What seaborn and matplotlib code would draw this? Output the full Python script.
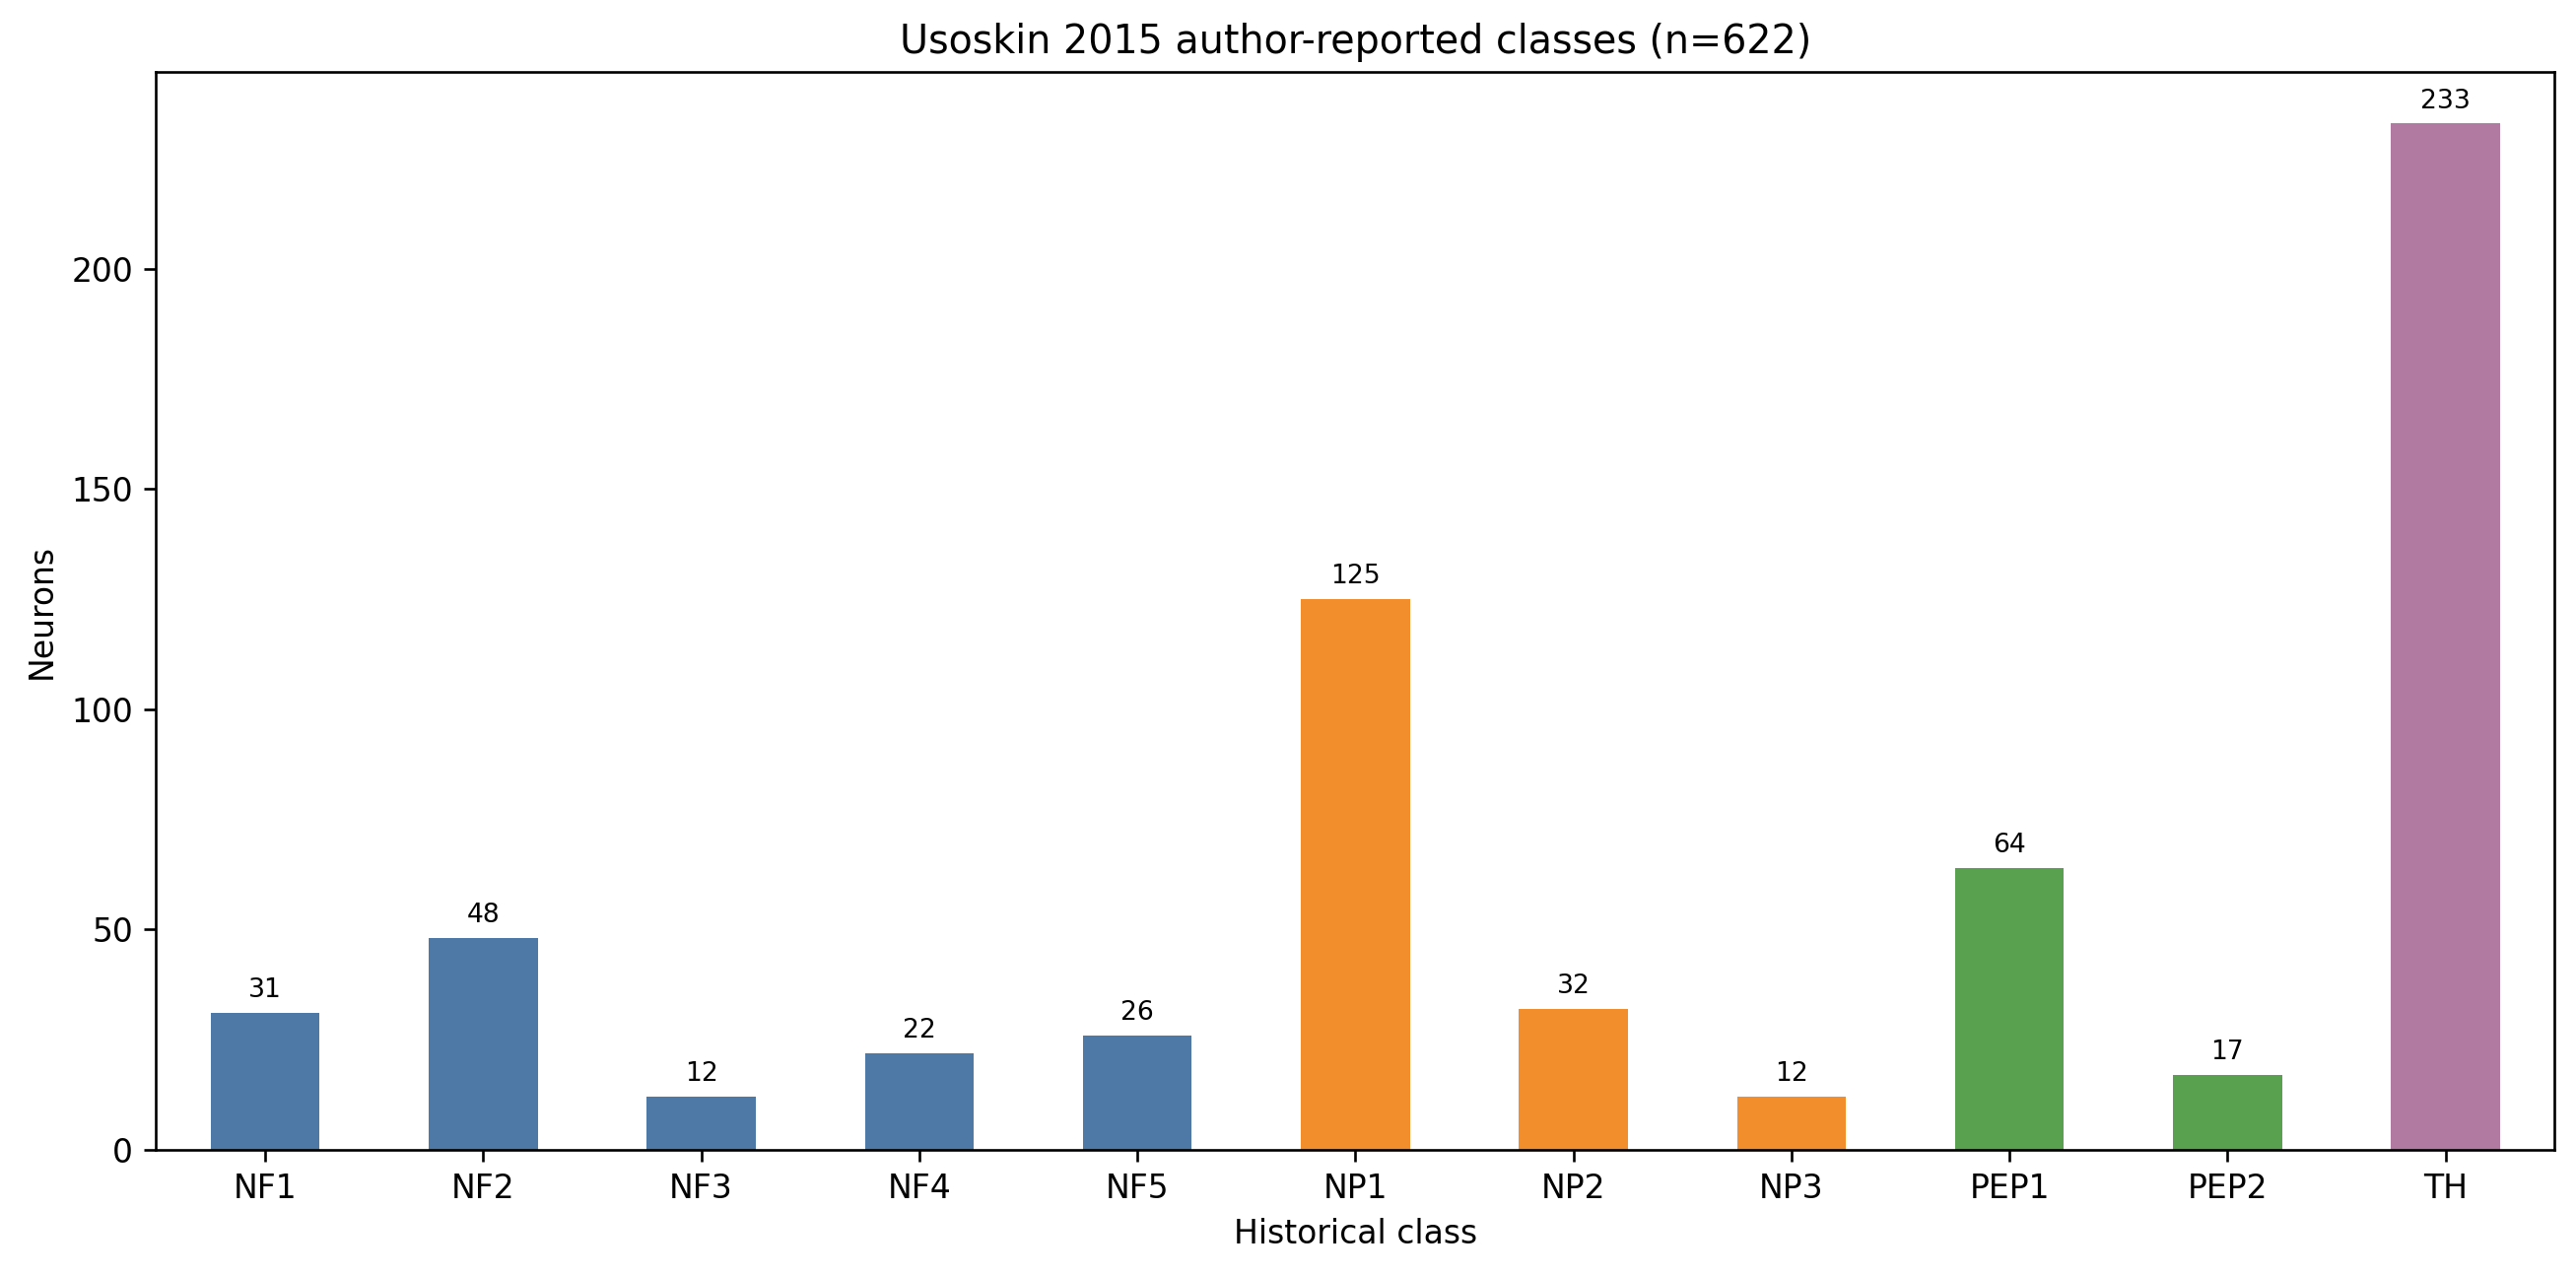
import matplotlib
matplotlib.use("Agg")
import matplotlib.pyplot as plt
import seaborn as sns
import pandas as pd

categories = ["NF1", "NF2", "NF3", "NF4", "NF5", "NP1", "NP2", "NP3", "PEP1", "PEP2", "TH"]
counts = [31, 48, 12, 22, 26, 125, 32, 12, 64, 17, 233]
groups = ["NF", "NF", "NF", "NF", "NF", "NP", "NP", "NP", "PEP", "PEP", "TH"]
group_colors = {"NF": "#4e79a7", "NP": "#f28e2b", "PEP": "#59a14f", "TH": "#b07aa1"}

plt.rcParams['font.family'] = ['DejaVu Sans']

df = pd.DataFrame({"cls": categories, "n": counts, "grp": groups})

DPI = 238
fig, ax = plt.subplots(figsize=(2614 / DPI, 1294 / DPI), dpi=DPI)
sns.barplot(data=df, x="cls", y="n", hue="grp", palette=group_colors,
            dodge=False, width=0.5, legend=False, saturation=1, ax=ax)
for c in ax.containers:
    labels = [f"{int(v)}" if v == v and v > 0 else "" for v in c.datavalues]
    ax.bar_label(c, labels=labels, padding=3, fontsize=8)
ax.set_xlim(-0.5, len(categories) - 0.5)
ax.set_ylim(0, max(counts) * 1.05)
ax.set_title("Usoskin 2015 author-reported classes (n=622)", fontsize=12)
ax.set_xlabel("Historical class", fontsize=10)
ax.set_ylabel("Neurons", fontsize=10)
ax.tick_params(labelsize=10)
fig.subplots_adjust(left=0.0606, right=0.9917, top=0.9433, bottom=0.0982)
fig.savefig("out.png", dpi=DPI)
